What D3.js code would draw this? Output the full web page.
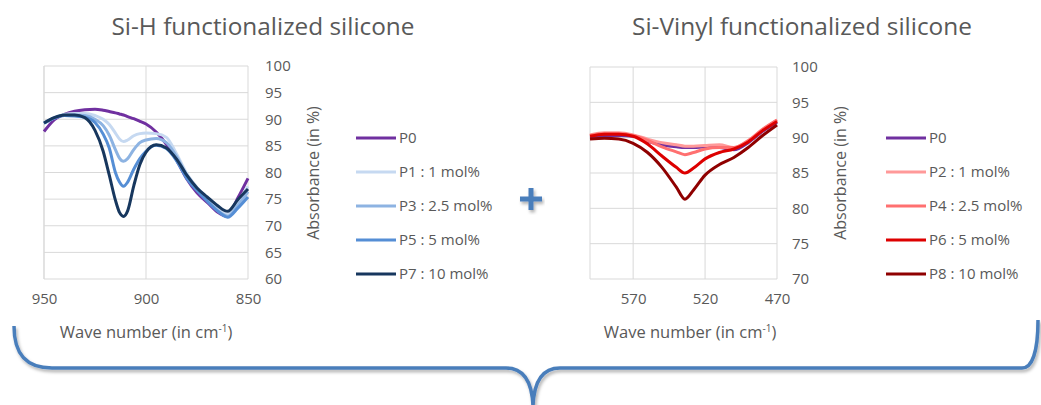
<!DOCTYPE html>
<html>
<head>
<meta charset="utf-8">
<script src="https://cdn.jsdelivr.net/npm/d3@7"></script>
<style>
  body { margin: 0; background: #fff; }
  text { font-family: "Open Sans", sans-serif; fill: #595959; }
</style>
</head>
<body>
<div id="chart"></div>
<script>
// ---- data ----
let siHWaves = [950, 945, 940, 935, 930, 925, 921, 918, 915, 913, 911, 909, 906, 903, 900, 895, 890, 885, 880, 875, 870, 865, 860, 855, 850]
let siHP0 = [87.7, 89.9, 90.9, 91.5, 91.8, 91.9, 91.7, 91.45, 91.2, 91.0, 90.8, 90.5, 90.1, 89.6, 89.1, 87.6, 85.3, 82.3, 78.8, 76.2, 74.4, 72.6, 71.8, 75.2, 78.9]
let siHP1 = [89.25, 90.3, 90.9, 91.1, 91.1, 90.7, 90.0, 89.0, 87.4, 86.3, 85.8, 86.1, 86.9, 87.3, 87.4, 87.3, 86.6, 83.5, 79.8, 77.2, 75.2, 73.3, 72.1, 74.5, 77.4]
let siHP3 = [89.25, 90.2, 90.8, 90.8, 90.7, 90.0, 88.8, 87.0, 84.3, 82.7, 82.1, 82.6, 84.3, 85.6, 86.1, 86.4, 85.6, 83.0, 79.4, 76.9, 74.8, 72.9, 71.8, 73.8, 76.4]
let siHP5 = [89.25, 90.2, 90.7, 90.6, 90.4, 89.4, 87.2, 84.6, 80.0, 78.2, 77.4, 78.2, 80.6, 82.6, 84.0, 85.1, 84.5, 82.2, 78.9, 76.6, 74.6, 72.8, 71.6, 73.3, 75.4]
let siHP7 = [89.3, 90.3, 90.8, 90.8, 90.3, 87.9, 84.0, 79.5, 74.8, 72.5, 71.75, 72.8, 77.5, 81.5, 83.8, 85.2, 84.6, 82.5, 79.5, 77.1, 75.4, 73.8, 72.7, 74.9, 76.9]

let vinylWaves = [600, 590, 580, 570, 560, 550, 540, 534, 528, 520, 510, 500, 490, 480, 470]
let vinylP0 = [90, 90.2, 90.3, 90.2, 89.5, 89, 88.7, 88.6, 88.6, 88.7, 88.6, 88.3, 89.3, 90.9, 92.2]
let vinylP2 = [90.4, 90.7, 90.7, 90.4, 89.8, 89.3, 89, 88.8, 88.8, 88.9, 89, 88.6, 89.5, 91.1, 92.5]
let vinylP4 = [90.3, 90.6, 90.6, 90.3, 89.6, 88.7, 88, 87.6, 87.9, 88.4, 88.6, 88.6, 89.6, 91.2, 92.5]
let vinylP6 = [90.2, 90.5, 90.5, 90.2, 89.1, 87.4, 85.8, 85, 85.7, 87, 87.9, 88.4, 89.4, 91, 92.3]
let vinylP8 = [89.8, 89.9, 89.8, 89.2, 87.9, 85.8, 83, 81.3, 82.6, 84.7, 86.2, 87.2, 88.6, 90.3, 91.8]

let siHNames = ['P0', 'P1 : 1 mol%', 'P3 : 2.5 mol%', 'P5 : 5 mol%', 'P7 : 10 mol%']
let vinylNames = ['P0', 'P2 : 1 mol%', 'P4 : 2.5 mol%', 'P6 : 5 mol%', 'P8 : 10 mol%']
let siHColors = ['#7030a0', '#c6d9f1', '#8db3e2', '#558ed5', '#17375e']
let vinylColors = ['#7030a0', '#ff9999', '#ff7070', '#dd0000', '#8f0000']

let siHXTicks = [950, 900, 850]
let siHYTicks = [60, 65, 70, 75, 80, 85, 90, 95, 100]
let vinylXTicks = [570, 520, 470]
let vinylYTicks = [70, 75, 80, 85, 90, 95, 100]

let W = 1041, H = 405
let braceBlue = '#4a7ebb'

let svg = d3.select('#chart').append('svg')
  .attr('width', W)
  .attr('height', H)

let defs = svg.append('defs')
let shadow = defs.append('filter').attr('id', 'shadow')
  .attr('x', '-10%').attr('y', '-10%').attr('width', '120%').attr('height', '130%')
shadow.append('feDropShadow')
  .attr('dx', 1.5).attr('dy', 2.5).attr('stdDeviation', 1.5)
  .attr('flood-color', '#000').attr('flood-opacity', 0.3)

// one spectrum panel
function panel(opts) {
  let x = d3.scaleLinear().domain(opts.xDomain).range([opts.left, opts.right])
  let y = d3.scaleLinear().domain(opts.yDomain).range([opts.bottom, opts.top])
  let g = svg.append('g')

  // gridlines
  g.selectAll('.hgrid').data(opts.yTicks).enter().append('line')
    .attr('x1', opts.left).attr('x2', opts.right)
    .attr('y1', d => y(d)).attr('y2', d => y(d))
    .style('stroke', '#d9d9d9').style('stroke-width', 1)
  g.selectAll('.vgrid').data(opts.xTicks.concat([opts.xDomain[0]])).enter().append('line')
    .attr('x1', d => x(d)).attr('x2', d => x(d))
    .attr('y1', opts.top).attr('y2', opts.bottom)
    .style('stroke', '#d9d9d9').style('stroke-width', 1)

  // y axis on the right, no line
  let yAxis = g.append('g')
    .attr('transform', 'translate(' + opts.right + ',0)')
    .call(d3.axisRight(y).tickValues(opts.yTicks).tickSize(0).tickPadding(opts.yPad))
  yAxis.select('.domain').remove()
  yAxis.selectAll('text').style('font-size', '15px').attr('fill', '#595959')

  // x axis
  let xAxis = g.append('g')
    .attr('transform', 'translate(0,' + opts.bottom + ')')
    .call(d3.axisBottom(x).tickValues(opts.xTicks).tickSize(0).tickPadding(14))
  xAxis.select('.domain').remove()
  xAxis.selectAll('text').style('font-size', '15px').attr('fill', '#595959')

  // lines
  let line = d3.line()
    .curve(d3.curveMonotoneX)
    .x(function(d) { return x(d.w) })
    .y(function(d) { return y(d.v) })

  let series = opts.series.map(function(vals, i) {
    return {
      name: opts.names[i],
      color: opts.colors[i],
      values: opts.waves.map(function(w, j) { return {w: w, v: vals[j]} })
    }
  })

  g.selectAll('.spec').data(series).enter().append('path')
    .attr('d', d => line(d.values))
    .style('fill', 'none')
    .style('stroke', d => d.color)
    .style('stroke-width', 3)
    .style('stroke-linejoin', 'round')

  // legend
  let legend = g.selectAll('.legend').data(series).enter().append('g')
    .attr('transform', (d, i) => 'translate(' + opts.legendX + ',' + (138 + i * 34) + ')')
  legend.append('line')
    .attr('x1', 0).attr('x2', 40)
    .style('stroke', d => d.color).style('stroke-width', 3)
  legend.append('text')
    .attr('x', 43).attr('dy', '0.35em')
    .style('font-size', '15px')
    .text(d => d.name)

  // titles
  svg.append('text')
    .attr('x', opts.titleX).attr('y', 35)
    .attr('text-anchor', 'middle')
    .attr('textLength', opts.titleLen).attr('lengthAdjust', 'spacingAndGlyphs')
    .style('font-size', '24px')
    .text(opts.title)

  svg.append('text')
    .attr('transform', 'translate(' + opts.yTitleX + ',173) rotate(-90)')
    .attr('text-anchor', 'middle')
    .attr('dy', '0.35em')
    .style('font-size', '16px')
    .text('Absorbance (in %)')

  let xt = svg.append('text')
    .attr('x', opts.xTitleX).attr('y', 338)
    .attr('text-anchor', 'middle')
    .style('font-size', '16.5px')
  xt.append('tspan').text('Wave number (in cm')
  xt.append('tspan').attr('dy', -6).style('font-size', '10px').text('-1')
  xt.append('tspan').attr('dy', 6).text(')')
}

panel({
  xDomain: [950, 850], yDomain: [60, 100],
  left: 44, right: 248, top: 66, bottom: 279,
  xTicks: siHXTicks, yTicks: siHYTicks, yPad: 17,
  waves: siHWaves, series: [siHP0, siHP1, siHP3, siHP5, siHP7],
  names: siHNames, colors: siHColors,
  legendX: 356, title: 'Si-H functionalized silicone', titleX: 263, titleLen: 303,
  yTitleX: 313, xTitleX: 146
})

panel({
  xDomain: [600, 470], yDomain: [70, 100],
  left: 590, right: 777, top: 67, bottom: 279,
  xTicks: vinylXTicks, yTicks: vinylYTicks, yPad: 15,
  waves: vinylWaves, series: [vinylP0, vinylP2, vinylP4, vinylP6, vinylP8],
  names: vinylNames, colors: vinylColors,
  legendX: 886, title: 'Si-Vinyl functionalized silicone', titleX: 802, titleLen: 340,
  yTitleX: 840, xTitleX: 690
})

// plus sign between the panels
svg.append('path')
  .attr('d', 'M520,199 L542,199 M531,188 L531,210')
  .style('stroke', braceBlue).style('stroke-width', 5)
  .style('fill', 'none')
  .attr('filter', 'url(#shadow)')

// curly brace underneath
svg.append('path')
  .attr('d', 'M14,326 C14,354 26,368 52,368 L506,368 C522,368 532,380 533,406 ' +
             'M533,406 C534,380 544,368 560,368 L1022,368 C1032,368 1038,352 1038,320')
  .style('stroke', braceBlue).style('stroke-width', 3.5)
  .style('fill', 'none')
  .attr('filter', 'url(#shadow)')
</script>
</body>
</html>
